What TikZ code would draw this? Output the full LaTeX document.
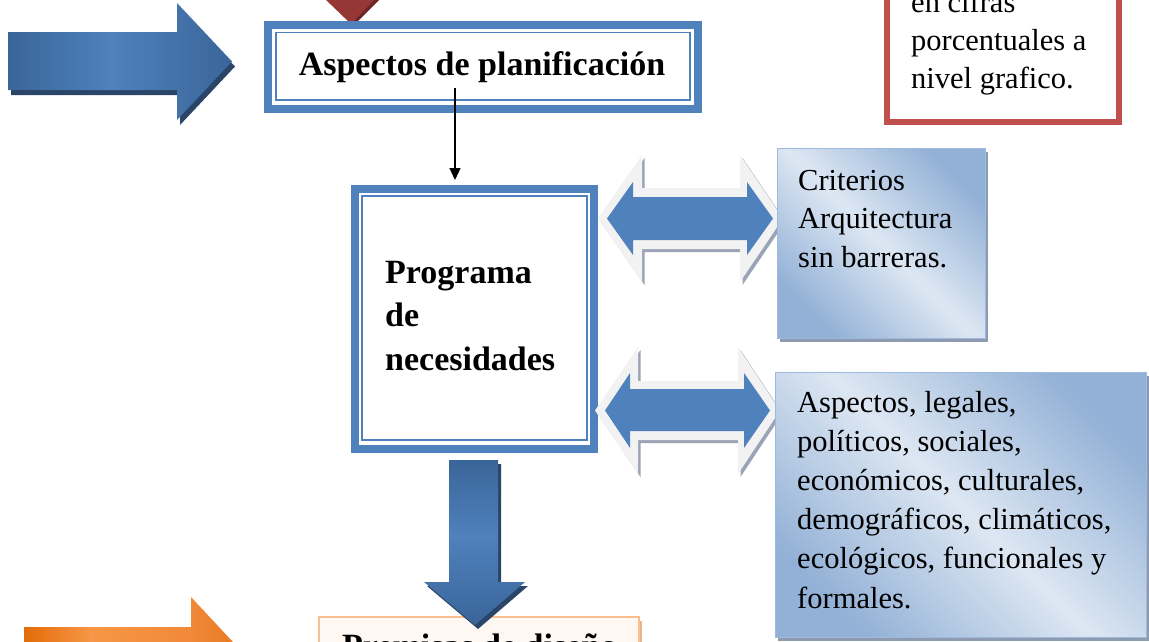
\documentclass[tikz,border=0pt]{standalone}
\usepackage{fontspec}
\setmainfont{Liberation Serif}
\usetikzlibrary{arrows.meta,shadows}
\definecolor{bBlue}{HTML}{4F81BD}
\definecolor{bDark}{HTML}{3A6598}
\definecolor{bShadow}{HTML}{2A4567}
\definecolor{rTri}{HTML}{953735}
\definecolor{rTriS}{HTML}{6B2624}
\definecolor{rBorder}{HTML}{C0504D}
\definecolor{oDark}{HTML}{E36C09}
\definecolor{oLight}{HTML}{F79646}
\definecolor{oMid}{HTML}{F08A3A}
\definecolor{oDark2}{HTML}{E8761C}
\definecolor{gBlue}{HTML}{93B1D6}
\definecolor{gLight}{HTML}{DDE7F3}
\definecolor{gBorder}{HTML}{9DB9DD}
\definecolor{gShadow}{HTML}{8E9AAF}
\definecolor{dOutline}{HTML}{F2F2F2}
\definecolor{dShadow}{HTML}{9AA4B6}
\definecolor{pBorder}{HTML}{FAC090}
\definecolor{pFill}{HTML}{FFF8F2}
\definecolor{pShadow}{HTML}{E6B68C}
\pgfdeclarehorizontalshading{blueh}{100bp}{color(0bp)=(bDark); color(25bp)=(bDark); color(48bp)=(bBlue); color(75bp)=(bDark); color(100bp)=(bDark)}
\pgfdeclareverticalshading{bluev}{100bp}{color(0bp)=(bDark); color(25bp)=(bDark); color(52bp)=(bBlue); color(75bp)=(bDark); color(100bp)=(bDark)}
\pgfdeclarehorizontalshading{orangeh}{100bp}{color(0bp)=(oDark); color(25bp)=(oDark); color(40bp)=(oLight); color(62bp)=(oMid); color(75bp)=(oDark2); color(100bp)=(oDark2)}
\pgfdeclarehorizontalshading{glass}{100bp}{color(0bp)=(gBlue); color(25bp)=(gBlue); color(50bp)=(gLight); color(75bp)=(gBlue); color(100bp)=(gBlue)}
\begin{document}
\begin{tikzpicture}[x=1pt,y=-1pt,
  txt/.style={font=\fontsize{30.5}{38.5}\selectfont, align=left, inner sep=0pt, anchor=base west},
  btxt/.style={font=\bfseries\fontsize{34}{43.5}\selectfont, align=left, inner sep=0pt, anchor=base west},
  framebox/.style={draw=bBlue, line width=8pt, inner sep=0pt, fill=white},
  innerframe/.style={draw=bBlue, line width=1.5pt, inner sep=0pt},
  glassbox/.style={shade, shading=glass, shading angle=45, draw=gBorder, line width=1pt, inner sep=0pt,
    drop shadow={shadow xshift=3pt, shadow yshift=-4pt, fill=gShadow, opacity=1}},
  dblout/.style={fill=dOutline},
  dblshadow/.style={fill=dShadow, shift={(2.5,3)}},
  dblfill/.style={fill=bBlue}
]
\useasboundingbox (0,0) rectangle (1149,641);
\fill[white] (0,0) rectangle (1149,641);
\clip (0,0) rectangle (1149,641);

% left blue block arrow
\fill[bShadow, shift={(3,5)}] (8,32) -- (177,32) -- (177,3) -- (232,61.5) -- (177,120) -- (177,90) -- (8,90) -- cycle;
\shade[shading=blueh] (8,32) -- (177,32) -- (177,3) -- (232,61.5) -- (177,120) -- (177,90) -- (8,90) -- cycle;

% red triangle from above
\fill[rTriS] (328,-2) -- (381,-2) -- (354,25) -- cycle;
\fill[rTri] (324,-2) -- (376,-2) -- (351,24) -- cycle;

% planning box
\node[framebox, minimum width=430pt, minimum height=84pt] (plan) at (483,67) {};
\node[innerframe, minimum width=414pt, minimum height=67.5pt] (planin) at (483,66.25) {};

% programme box
\node[framebox, minimum width=239pt, minimum height=260pt] (prog) at (474.5,319) {};
\node[innerframe, minimum width=225pt, minimum height=244pt] (progin) at (474.5,318) {};

% thin connector
\coordinate (a1) at (455,88);
\draw[line width=1.3pt, -{Triangle[width=11pt,length=12pt]}, shorten >=5pt] (a1) -- (a1 |- prog.north);

% double arrows
\path[dblshadow] (598,218.5) -- (642,155) -- (642,188) -- (740,188) -- (740,155) -- (783,218.5) -- (740,282) -- (740,249) -- (642,249) -- (642,282) -- cycle;
\path[dblout] (598,218.5) -- (642,155) -- (642,188) -- (740,188) -- (740,155) -- (783,218.5) -- (740,282) -- (740,249) -- (642,249) -- (642,282) -- cycle;
\path[dblfill] (607,218.5) -- (633,182) -- (633,197) -- (747,197) -- (747,182) -- (773,218.5) -- (747,255) -- (747,240) -- (633,240) -- (633,255) -- cycle;

\path[dblshadow] (595,410.5) -- (638,347) -- (638,381) -- (738,381) -- (738,347) -- (780,410.5) -- (738,474) -- (738,440) -- (638,440) -- (638,474) -- cycle;
\path[dblout] (595,410.5) -- (638,347) -- (638,381) -- (738,381) -- (738,347) -- (780,410.5) -- (738,474) -- (738,440) -- (638,440) -- (638,474) -- cycle;
\path[dblfill] (605,410.5) -- (630,373) -- (630,389) -- (744,389) -- (744,373) -- (770,410.5) -- (744,448) -- (744,431) -- (630,431) -- (630,448) -- cycle;

% gradient boxes
\node[glassbox, minimum width=208pt, minimum height=190pt] (crit) at (881,243) {};
\node[glassbox, minimum width=371pt, minimum height=265pt] (asp) at (960.5,504.5) {};

% red box
\node[draw=rBorder, line width=6pt, fill=white, inner sep=0pt, minimum width=232pt, minimum height=160pt] (obj) at (1003,42) {};

% premisas box
\node[draw=pBorder, line width=1.5pt, fill=pFill, inner sep=0pt, minimum width=320pt, minimum height=90pt,
  drop shadow={shadow xshift=3pt, shadow yshift=-4pt, fill=pShadow, opacity=1}] (prem) at (479,662) {};

% down block arrow
\fill[bShadow, shift={(3,4)}] (449,460) -- (498,460) -- (498,582) -- (525,582) -- (475,625) -- (424,582) -- (449,582) -- cycle;
\shade[shading=bluev] (449,460) -- (498,460) -- (498,582) -- (525,582) -- (475,625) -- (424,582) -- (449,582) -- cycle;

% orange block arrow
\shade[shading=orangeh] (24,627) -- (191,627) -- (191,597) -- (245.5,655.5) -- (191,714) -- (191,684) -- (24,684) -- cycle;

% texts (base anchor = baseline of last line)
\node[btxt, anchor=base] (planT) at (482,75) {Aspectos de planificación};
\node[btxt] (progT) at (385,370) {Programa\\de\\necesidades};
\node[txt] (critT) at (798,267) {Criterios\\Arquitectura\\sin barreras.};
\node[txt, font=\fontsize{30.5}{39.2}\selectfont] (aspT) at (797,608) {Aspectos, legales,\\políticos, sociales,\\económicos, culturales,\\demográficos, climáticos,\\ecológicos, funcionales y\\formales.};
\node[txt, font=\fontsize{30.5}{38}\selectfont] (objT) at (911,88) {en cifras\\porcentuales a\\nivel grafico.};
\node[btxt] (premT) at (342,657) {Premisas de diseño};
\end{tikzpicture}
\end{document}
